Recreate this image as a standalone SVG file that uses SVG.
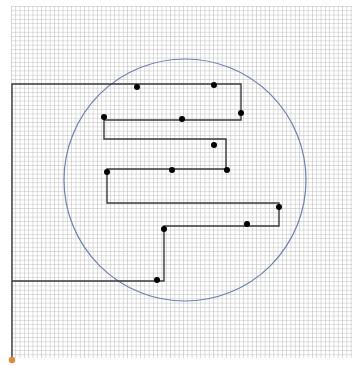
<svg xmlns="http://www.w3.org/2000/svg" width="352" height="366" viewBox="0 0 352 366">
<defs>
<pattern id="grid" x="11" y="6" width="4.3" height="4.3" patternUnits="userSpaceOnUse">
<path d="M0 0H4.3M0 0V4.3" fill="none" stroke="#b8b8b8" stroke-width="1"/>
</pattern>
<style>
.path{fill:none;stroke:#3a3a3a;stroke-width:1.4}
.dot{fill:#000}
</style>
</defs>
<rect width="352" height="366" fill="#ffffff"/>
<rect x="11" y="6" width="341" height="352" fill="url(#grid)"/>
<g id="circle"><circle cx="185" cy="180" r="121" fill="none" stroke="#7080b0" stroke-width="1.2"/></g>
<g id="connectors">
<polyline class="path" points="12,358 12,84 241,84 241,120 104,120 104,139 226,139 226,169 107,169 107,203 279,203 279,226 164,226 164,281 12,281"/>
</g>
<g id="dots">
<circle class="dot" cx="137" cy="87" r="3"/>
<circle class="dot" cx="214" cy="85" r="3"/>
<circle class="dot" cx="241" cy="113" r="3"/>
<circle class="dot" cx="104" cy="117" r="3"/>
<circle class="dot" cx="182" cy="119" r="3"/>
<circle class="dot" cx="214" cy="145" r="3"/>
<circle class="dot" cx="107" cy="172" r="3"/>
<circle class="dot" cx="172" cy="170" r="3"/>
<circle class="dot" cx="227" cy="170" r="3"/>
<circle class="dot" cx="279" cy="207" r="3"/>
<circle class="dot" cx="247" cy="224" r="3"/>
<circle class="dot" cx="164" cy="229" r="3"/>
<circle class="dot" cx="157" cy="280" r="3"/>
</g>
<g id="origin"><circle cx="12" cy="360" r="3.2" fill="#e08a40"/></g>
</svg>
